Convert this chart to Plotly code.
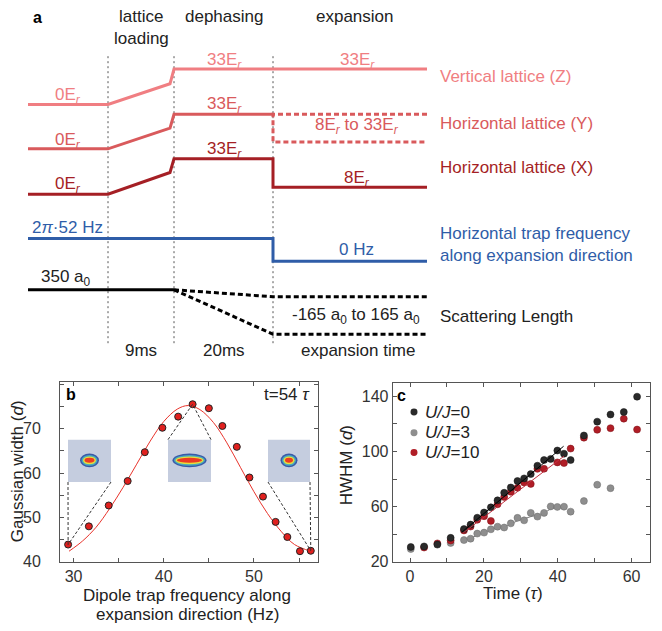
import plotly.graph_objects as go

W, H = 662, 631
FONT = "Arial"

# ---------------- Panel a: schematic sequence (diagram units = pixels) -------------
phase_edges = [108, 174, 273]             # dotted phase boundaries
z_x = [28, 108, 170, 174, 427]
z_y = [106, 106, 85, 70, 70]
y_x = [28, 108, 170, 174, 273]
y_y = [151, 151, 130, 116, 116]
y_dash_x = [427, 273, 273, 427]
y_dash_y = [116, 116, 144, 144]
x_x = [28, 108, 170, 174, 273, 273, 427]
x_y = [197, 197, 175, 161, 161, 190, 190]
trap_x = [28, 273, 273, 427]
trap_y = [242, 242, 265, 265]
scat_x = [28, 174]
scat_y = [294, 294]
scat_hi_x = [174, 273, 427]
scat_hi_y = [294, 301, 301]
scat_lo_x = [174, 273, 427]
scat_lo_y = [294, 339, 339]

# ---------------- Panel b data ----------------
freq_hz = [29.4, 31.7, 33.9, 36.0, 37.9, 39.85, 41.6, 43.2, 45.0, 46.5, 48.1, 49.5,
           51.0, 52.4, 53.7, 55.1, 56.3]
gauss_width = [43.9, 48.0, 52.7, 58.2, 64.7, 70.2, 72.7, 75.5, 74.6, 70.6, 65.9, 59.0,
               54.7, 49.0, 45.6, 42.4, 42.5]
fit_freq = [29.5, 31, 32.5, 34, 35.5, 37, 38.5, 40, 41.5, 42.7, 44, 45.5, 47, 48.5,
            50, 51.5, 53, 54.5, 56.3]
fit_width = [42.4, 44.7, 47.8, 52.0, 56.8, 62.0, 67.2, 71.6, 74.4, 75.2, 74.3, 71.4,
             66.8, 61.3, 55.8, 50.9, 46.9, 43.9, 42.4]
b_ticks_x = [30, 40, 50]
b_ticks_y = [40, 50, 60, 70]

# ---------------- Panel c data ----------------
t_u0 = [0.2, 3.8, 7.4, 11.0, 14.6, 16.4, 18.2, 20.05, 21.9, 23.7, 25.5, 27.3, 29.1,
        30.9, 32.7, 34.5, 36.3, 38.1, 39.9, 41.7, 43.5, 47.1, 50.7, 54.3, 57.9, 61.5]
hwhm_u0 = [30.8, 31.2, 32.5, 37.4, 43.8, 47.0, 52.0, 55.8, 59.5, 64.6, 70.1, 73.9, 78.6,
           80.5, 83.6, 89.7, 93.8, 94.6, 100.7, 98.4, 93.8, 111.6, 121.6, 126.8, 128.6, 139.7]
t_u3 = [0.2, 11.0, 14.6, 16.4, 18.2, 20.05, 21.9, 23.7, 25.5, 27.3, 29.1, 30.9, 32.7,
        34.5, 36.3, 38.1, 39.9, 41.7, 43.5, 47.1, 50.7, 54.3]
hwhm_u3 = [29.3, 33.7, 35.8, 36.8, 40.5, 41.2, 43.6, 45.5, 44.9, 47.9, 51.9, 50.1, 55.5,
           52.8, 55.5, 60.2, 59.8, 60.0, 56.4, 64.1, 75.9, 73.4]
t_u10 = [3.8, 7.4, 11.0, 14.6, 16.4, 18.2, 20.05, 21.9, 23.7, 25.5, 27.3, 29.1, 30.9,
         32.7, 34.5, 36.3, 39.9, 41.7, 43.5, 47.1, 50.7, 54.3, 57.9, 61.5]
hwhm_u10 = [30.4, 33.4, 35.5, 42.8, 45.6, 50.5, 53.1, 49.7, 61.8, 67.0, 70.8, 73.7, 77.5,
            76.5, 87.4, 87.5, 92.1, 91.6, 102.1, 110.0, 115.7, 116.9, 123.8, 115.9]
fit_u0_t = [14.0, 41.6]
fit_u0_y = [41.4, 103.8]
fit_u10_t = [14.4, 41.7]
fit_u10_y = [41.0, 96.6]
guide_u3_t = [14.6, 16.4, 18.2, 20.05, 21.9, 23.7, 25.5, 27.3, 29.1, 30.9, 32.7, 34.5,
              36.3, 38.1, 39.9, 41.7]
guide_u3_y = [35.8, 37.0, 39.5, 41.3, 43.3, 44.8, 45.5, 47.4, 49.8, 51.2, 52.8, 54.0,
              55.6, 58.3, 59.6, 60.0]
c_ticks_x = [0, 20, 40, 60]
c_ticks_y = [20, 60, 100, 140]

C_Z, C_Y, C_X = "#F07E82", "#D95A5C", "#A51F25"
C_BLUE = "#2F5DA8"
C_U0, C_U3, C_U10 = "#2A2A2A", "#8E8E8E", "#B01D26"


def px(x):
    return x / W


def py(y):
    return 1 - y / H


fig = go.Figure()


def diag(xs, ys, color, dash=None, width=3):
    fig.add_trace(go.Scatter(x=xs, y=ys, mode="lines", xaxis="x3", yaxis="y3",
                             line=dict(color=color, width=width, dash=dash),
                             hoverinfo="skip", showlegend=False))


for e in phase_edges:
    diag([e, e], [57, 350], "#555555", dash="2px,3px", width=1)
diag(z_x, z_y, C_Z)
diag(y_x, y_y, C_Y)
diag(y_dash_x, y_dash_y, C_Y, dash="5px,3px")
diag(x_x, x_y, C_X)
diag(trap_x, trap_y, C_BLUE)
diag(scat_x, scat_y, "black")
diag(scat_hi_x, scat_hi_y, "black", dash="5px,3px")
diag(scat_lo_x, scat_lo_y, "black", dash="5px,3px")

# ----- panel b
fig.add_trace(go.Scatter(x=fit_freq, y=fit_width, mode="lines",
                         line=dict(color="#E8332B", width=1, shape="spline"),
                         xaxis="x", yaxis="y", showlegend=False, hoverinfo="skip"))
fig.add_trace(go.Scatter(x=freq_hz, y=gauss_width, mode="markers",
                         marker=dict(color="#E0201E", size=7, line=dict(color="#222", width=1)),
                         xaxis="x", yaxis="y", showlegend=False))

# ----- panel c
fig.add_trace(go.Scatter(x=guide_u3_t, y=guide_u3_y, mode="lines",
                         line=dict(color="#777", width=1, shape="spline"),
                         xaxis="x2", yaxis="y2", showlegend=False))
fig.add_trace(go.Scatter(x=t_u3, y=hwhm_u3, mode="markers",
                         marker=dict(color=C_U3, size=7, line=dict(color="#6a6a6a", width=0.5)),
                         xaxis="x2", yaxis="y2", showlegend=False))
fig.add_trace(go.Scatter(x=t_u10, y=hwhm_u10, mode="markers",
                         marker=dict(color=C_U10, size=7, line=dict(color="#7a1016", width=0.5)),
                         xaxis="x2", yaxis="y2", showlegend=False))
fig.add_trace(go.Scatter(x=t_u0, y=hwhm_u0, mode="markers",
                         marker=dict(color=C_U0, size=7, line=dict(color="#111", width=0.5)),
                         xaxis="x2", yaxis="y2", showlegend=False))
fig.add_trace(go.Scatter(x=fit_u0_t, y=fit_u0_y, mode="lines", line=dict(color="black", width=1),
                         xaxis="x2", yaxis="y2", showlegend=False))
fig.add_trace(go.Scatter(x=fit_u10_t, y=fit_u10_y, mode="lines", line=dict(color="#C03040", width=1),
                         xaxis="x2", yaxis="y2", showlegend=False))

ann = []


def text(x, y, s, size=17, color="#222", xanchor="center", angle=0, yanchor="middle"):
    ann.append(dict(x=px(x), y=py(y), xref="paper", yref="paper", text=s, showarrow=False,
                    xanchor=xanchor, yanchor=yanchor, textangle=angle,
                    font=dict(family=FONT, size=size, color=color)))


def Er(v):
    return f"{v}E<sub><i>r</i></sub>"


# panel a texts
text(37, 18, "<b>a</b>", size=16, color="black")
text(141, 17, "lattice")
text(141, 39, "loading")
text(224, 17, "dephasing")
text(355, 17, "expansion")
text(68, 97, Er(0), color=C_Z)
text(224, 62, Er(33), color=C_Z)
text(357, 62, Er(33), color=C_Z)
text(68, 143, Er(0), color=C_Y)
text(224, 107, Er(33), color=C_Y)
text(357, 128, Er(8) + " to " + Er(33), color=C_Y)
text(68, 188, Er(0), color=C_X)
text(224, 152, Er(33), color=C_X)
text(357, 182, Er(8), color=C_X)
text(67, 231, "2<i>π</i>·52 Hz", color=C_BLUE)
text(356, 253, "0 Hz", color=C_BLUE)
text(66, 282, "350 a<sub>0</sub>", color="#222")
text(356, 321, "-165 a<sub>0</sub> to 165 a<sub>0</sub>", color="#222")
text(438, 78, "Vertical lattice (Z)", color=C_Z, xanchor="left")
text(438, 125, "Horizontal lattice (Y)", color=C_Y, xanchor="left")
text(438, 170, "Horizontal lattice (X)", color=C_X, xanchor="left")
text(438, 237, "Horizontal trap frequency", color=C_BLUE, xanchor="left")
text(438, 259, "along expansion direction", color=C_BLUE, xanchor="left")
text(438, 321, "Scattering Length", color="#222", xanchor="left")
text(141, 356, "9ms")
text(224, 356, "20ms")
text(358, 356, "expansion time")

# panel b texts
text(71, 400, "<b>b</b>", size=16, color="black")
text(312, 400, "t=54 <i>τ</i>", xanchor="right")
text(17, 478, "Gaussian width (<i>d</i>)", angle=-90)
text(187, 604, "Dipole trap frequency along")
text(187, 623, "expansion direction (Hz)")

# panel c texts
text(401, 401, "<b>c</b>", size=16, color="black")
text(346, 472, "HWHM (<i>d</i>)", angle=-90)
text(513, 602, "Time (<i>τ</i>)")
legend_items = [("<i>U/J</i>=0", C_U0, 418), ("<i>U/J</i>=3", C_U3, 439), ("<i>U/J</i>=10", C_U10, 459)]
shapes = []
for label, col, yy in legend_items:
    text(423, yy, label, xanchor="left")
    shapes.append(dict(type="circle", xref="paper", yref="paper", x0=px(410.5), x1=px(417.5),
                       y0=py(yy - 3.5), y1=py(yy + 3.5), fillcolor=col, line=dict(width=0)))

# insets in panel b (absorption-image style thumbnails)
insets = [(68, 111, 19), (168, 211, 34), (268, 310, 17)]
for x0, x1, bw in insets:
    shapes.append(dict(type="rect", xref="paper", yref="paper", x0=px(x0), x1=px(x1), y0=py(489), y1=py(446),
                       fillcolor="#C5CDDF", line=dict(width=0), layer="above"))
    cx = (x0 + x1) / 2
    cy = 467
    layers = [("#3A5AA8", 0), ("#47A9C0", 1.5), ("#E6DE3C", 3), ("#EE3A22", 4.5)]
    for col, ins in layers:
        hw = bw / 2 - ins
        hh = 7 - ins
        shapes.append(dict(type="circle", xref="paper", yref="paper", x0=px(cx - hw), x1=px(cx + hw),
                           y0=py(cy + hh), y1=py(cy - hh), fillcolor=col, line=dict(width=0),
                           layer="above"))

# dashed connectors from thumbnails to data points
conn = [((68, 489), (freq_hz[0], gauss_width[0])), ((111, 489), (freq_hz[0], gauss_width[0])),
        ((168, 446), (freq_hz[7], gauss_width[7])), ((211, 446), (freq_hz[7], gauss_width[7])),
        ((268, 489), (freq_hz[-1], gauss_width[-1])), ((310, 489), (freq_hz[-1], gauss_width[-1]))]
XR = [28.5, 57.1]
YR = [40, 80.4]
BX0, BX1, BY0, BY1 = 60, 318, 570, 388
for (ax_, ay_), (dx, dy) in conn:
    tx = BX0 + (dx - XR[0]) / (XR[1] - XR[0]) * (BX1 - BX0)
    ty = BY0 - (dy - YR[0]) / (YR[1] - YR[0]) * (BY0 - BY1)
    shapes.append(dict(type="line", xref="paper", yref="paper", x0=px(ax_), y0=py(ay_), x1=px(tx), y1=py(ty),
                       line=dict(color="#333", width=1, dash="3px,2px"), layer="above"))

axis_common = dict(showgrid=False, zeroline=False, showline=True, linecolor="#555", linewidth=1,
                   mirror="ticks", ticks="inside", ticklen=4, tickcolor="#555",
                   tickfont=dict(family=FONT, size=16, color="#333"))

fig.update_layout(
    width=W, height=H, margin=dict(l=0, r=0, t=0, b=0),
    paper_bgcolor="white", plot_bgcolor="rgba(0,0,0,0)",
    showlegend=False,
    xaxis=dict(domain=[px(60), px(318)], range=XR, anchor="y", tickvals=b_ticks_x,
               minor=dict(dtick=5, tick0=0, ticks="inside", ticklen=4, tickcolor="#555"), **axis_common),
    yaxis=dict(domain=[py(570), py(388)], range=YR, anchor="x", tickvals=b_ticks_y,
               minor=dict(dtick=5, tick0=0, ticks="inside", ticklen=4, tickcolor="#555"),
               ticklabelstandoff=15, **axis_common),
    xaxis2=dict(domain=[px(392.7), px(650)], range=[-4.7, 65], anchor="y2", tickvals=c_ticks_x,
                minor=dict(dtick=10, tick0=0, ticks="inside", ticklen=4, tickcolor="#555"), **axis_common),
    yaxis2=dict(domain=[py(570), py(389)], range=[20, 149.3], anchor="x2", tickvals=c_ticks_y,
                minor=dict(dtick=20, tick0=0, ticks="inside", ticklen=4, tickcolor="#555"), **axis_common),
    xaxis3=dict(domain=[0, 1], range=[0, W], visible=False, anchor="y3", fixedrange=True),
    yaxis3=dict(domain=[py(385), 1], range=[385, 0], visible=False, anchor="x3", fixedrange=True),
    annotations=ann,
    shapes=shapes,
)

fig.write_html("out.html", config={"displayModeBar": False},
               post_script="document.body.style.margin='0px';document.body.style.overflow='hidden';")
